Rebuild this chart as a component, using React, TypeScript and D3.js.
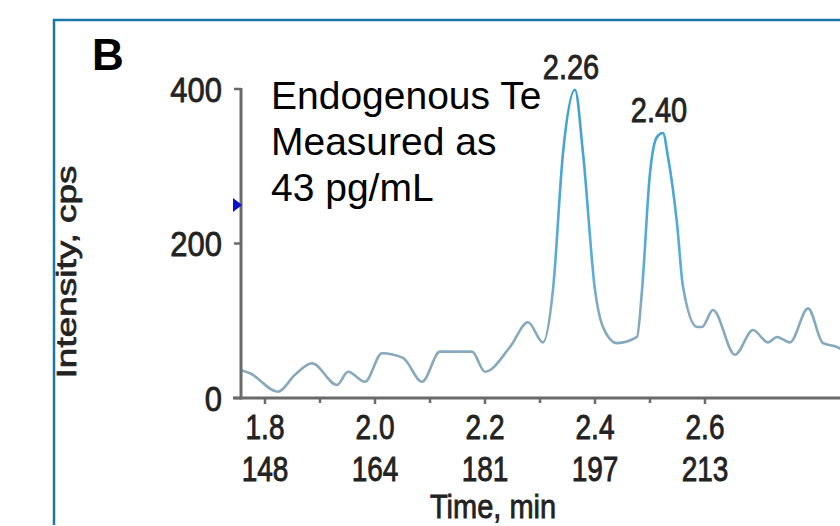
import React from "react";
import * as d3 from "d3";

// ---- data ----
const times = [1.7564, 1.7727, 1.8236, 1.8545, 1.8855, 1.9309, 1.9509, 1.9818, 2.0127, 2.0509, 2.0855, 2.1182, 2.1764, 2.2, 2.2455, 2.2782, 2.3055, 2.3236, 2.3418, 2.3636, 2.3782, 2.4, 2.4145, 2.44, 2.4764, 2.4855, 2.5, 2.5127, 2.5236, 2.5327, 2.5491, 2.56, 2.5855, 2.5945, 2.6145, 2.6545, 2.6873, 2.7145, 2.7309, 2.7545, 2.7873, 2.8145, 2.84, 2.8545];
const intensity = [36, 32, 8, 30, 45, 17, 34, 21, 58, 52, 21, 60, 60, 34, 66, 98, 72, 140, 317, 399, 317, 140, 92, 71, 79, 140, 291, 338, 343, 312, 226, 144, 92, 92, 114, 56, 88, 72, 79, 72, 116, 71, 66, 60];

const xTicks = [1.8, 2.0, 2.2, 2.4, 2.6];
const xTickLabels = ["1.8", "2.0", "2.2", "2.4", "2.6"];
const scanLabels = ["148", "164", "181", "197", "213"];
const xMinorTicks = [1.9, 2.1, 2.3, 2.5];
const yTicks = [0, 200, 400];
const yTickLabels = ["0", "200", "400"];

const peakTimes = [2.3636, 2.5236];
const peakLabels = ["2.26", "2.40"];
const markerValue = 250;

const annotationLines = ["Endogenous Te", "Measured as", "43 pg/mL"];
const panelLetter = "B";
const xTitle = "Time, min";
const yTitle = "Intensity, cps";

export default function App() {
  const x = d3.scaleLinear().domain([1.8, 2.6]).range([265, 705]);
  const y = d3.scaleLinear().domain([0, 400]).range([398, 89]);
  const axisX = x(1.7564);
  const pts = times.map((t, i) => [t, intensity[i]] as [number, number]);
  const line = d3
    .line<[number, number]>()
    .x((d) => x(d[0]))
    .y((d) => y(d[1]))
    .curve(d3.curveMonotoneX);

  const font = "'Liberation Sans', Arial, sans-serif";
  const tickFill = "#222";
  const heavy = { stroke: "#222", strokeWidth: 0.7 };

  const peaks = peakTimes.map((pt, k) => {
    let best = 0;
    times.forEach((t, i) => {
      if (Math.abs(t - pt) < Math.abs(times[best] - pt)) best = i;
    });
    return { x: x(times[best]), y: y(intensity[best]), label: peakLabels[k] };
  });

  return (
    <svg
      width={840}
      height={526}
      style={{ position: "absolute", left: 0, top: 0, background: "#fff" }}
    >
      <defs>
        <linearGradient id="lineGrad" gradientUnits="userSpaceOnUse" x1={0} y1={y(0)} x2={0} y2={y(400)}>
          <stop offset="0" stopColor="#8aa8ba" />
          <stop offset="0.3" stopColor="#84a9c0" />
          <stop offset="0.4" stopColor="#5aaddb" />
          <stop offset="1" stopColor="#3c9fd6" />
        </linearGradient>
        <clipPath id="plotClip">
          <rect x={axisX} y={0} width={840 - axisX} height={400} />
        </clipPath>
      </defs>

      {/* panel frame */}
      <path d="M54,525 V20 H840" fill="none" stroke="#1a76a6" strokeWidth={2.5} />

      {/* panel letter */}
      <text x={92} y={70} fontFamily={font} fontWeight="bold" fontSize={44} fill="#000">
        {panelLetter}
      </text>

      {/* trace */}
      <path
        d={line(pts) || ""}
        fill="none"
        stroke="url(#lineGrad)"
        strokeWidth={2.6}
        strokeLinejoin="round"
        clipPath="url(#plotClip)"
      />

      {/* axes */}
      <line x1={axisX} y1={y(400) - 1} x2={axisX} y2={y(0) + 1.5} stroke="#6a6a6a" strokeWidth={3} />
      <line x1={axisX - 8} y1={y(0)} x2={840} y2={y(0)} stroke="#6a6a6a" strokeWidth={3} />
      {yTicks.map((v, i) => (
        <g key={"yt" + i}>
          <line x1={axisX - 7} x2={axisX} y1={y(v)} y2={y(v)} stroke="#6a6a6a" strokeWidth={2.5} />
          <text
            transform={`translate(222,${y(v)}) scale(1,1.15)`}
            textAnchor="end"
            dy="0.36em"
            fontFamily={font}
            fontSize={31}
            fill={tickFill}
            {...heavy}
          >
            {yTickLabels[i]}
          </text>
        </g>
      ))}
      {/* marker */}
      <path
        d={`M${axisX - 8},${y(markerValue) - 7} L${axisX + 1},${y(markerValue)} L${axisX - 8},${y(markerValue) + 7} Z`}
        fill="#0a10c8"
      />

      {xMinorTicks.map((v, i) => (
        <line key={"xm" + i} x1={x(v)} x2={x(v)} y1={y(0)} y2={y(0) + 5} stroke="#6a6a6a" strokeWidth={2.5} />
      ))}
      {xTicks.map((v, i) => (
        <g key={"xt" + i}>
          <line x1={x(v)} x2={x(v)} y1={y(0)} y2={y(0) + 6} stroke="#6a6a6a" strokeWidth={2.5} />
          <text
            transform={`translate(${x(v)},439) scale(1,1.25)`}
            textAnchor="middle"
            fontFamily={font}
            fontSize={28}
            fill={tickFill}
            {...heavy}
          >
            {xTickLabels[i]}
          </text>
          <text
            transform={`translate(${x(v)},481) scale(1,1.25)`}
            textAnchor="middle"
            fontFamily={font}
            fontSize={28}
            fill={tickFill}
            {...heavy}
          >
            {scanLabels[i]}
          </text>
        </g>
      ))}

      {/* axis titles */}
      <text
        transform="translate(493,518) scale(1,1.15)"
        textAnchor="middle"
        fontFamily={font}
        fontSize={29}
        fill={tickFill}
        {...heavy}
      >
        {xTitle}
      </text>
      <text
        transform="translate(76,272) rotate(-90) scale(1.32,1)"
        textAnchor="middle"
        fontFamily={font}
        fontSize={28}
        fill={tickFill}
        {...heavy}
      >
        {yTitle}
      </text>

      {/* peak labels */}
      {peaks.map((p, i) => (
        <text
          key={"pk" + i}
          transform={`translate(${p.x - 4},${p.y - 11}) scale(1,1.2)`}
          textAnchor="middle"
          fontFamily={font}
          fontSize={29}
          fill={tickFill}
          {...heavy}
        >
          {p.label}
        </text>
      ))}

      {/* annotation */}
      {annotationLines.map((s, i) => (
        <text key={"an" + i} x={271} y={109 + i * 46} fontFamily={font} fontSize={39} fill="#000">
          {s}
        </text>
      ))}
    </svg>
  );
}
